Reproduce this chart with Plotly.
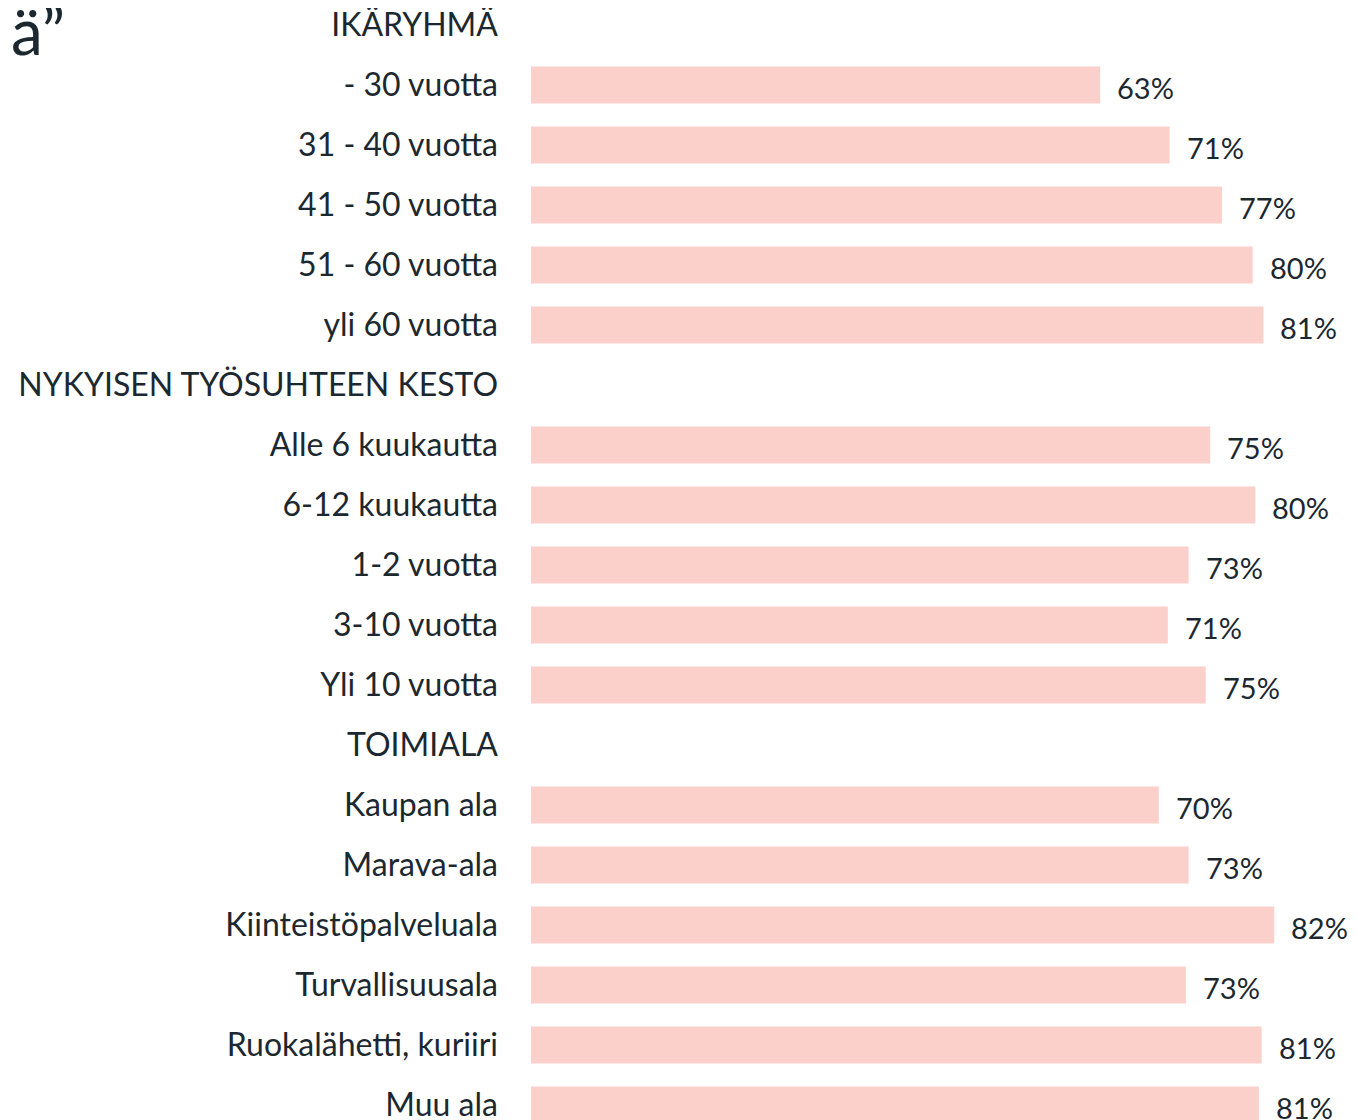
import plotly.graph_objects as go

# Ryhmät ja arvot (%)
ika_labels = ["- 30 vuotta", "31 - 40 vuotta", "41 - 50 vuotta", "51 - 60 vuotta", "yli 60 vuotta"]
ika_values = [63.1, 70.8, 76.6, 80.0, 81.2]

kesto_labels = ["Alle 6 kuukautta", "6-12 kuukautta", "1-2 vuotta", "3-10 vuotta", "Yli 10 vuotta"]
kesto_values = [75.3, 80.3, 72.9, 70.6, 74.8]

ala_labels = ["Kaupan ala", "Marava-ala", "Kiinteistöpalveluala", "Turvallisuusala",
              "Ruokalähetti, kuriiri", "Muu ala"]
ala_values = [69.6, 72.9, 82.4, 72.6, 81.0, 80.7]

headers = ["IKÄRYHMÄ", "NYKYISEN TYÖSUHTEEN KESTO", "TOIMIALA"]

TEXT = "#1c2830"
BAR = "#fbcfca"
FONT = "Lato, Inter, sans-serif"
PX_PER_PCT = 9.02

# kootaan kategoriat otsikkoriveineen
cats, vals = [], []
for head, labels, values in zip(headers,
                                [ika_labels, kesto_labels, ala_labels],
                                [ika_values, kesto_values, ala_values]):
    cats.append(head)
    vals.append(None)
    cats += labels
    vals += values

fig = go.Figure(go.Bar(
    x=vals, y=cats, orientation="h",
    marker=dict(color=BAR, line=dict(width=0)),
    width=0.62, hoverinfo="skip"
))

for c, v in zip(cats, vals):
    if v is None:
        continue
    fig.add_annotation(x=v, y=c, text=f"{round(v)}%", showarrow=False,
                       xanchor="left", xshift=15, yshift=-2,
                       font=dict(size=29, color=TEXT, family=FONT))

# katkennut otsikko vasemmassa yläkulmassa
plot_w = 1356 - 523
fig.add_annotation(xref="paper", yref="paper", x=-523 / plot_w, y=1.0,
                   xanchor="right", yanchor="top", xshift=59, yshift=18,
                   text="ä”", showarrow=False,
                   font=dict(size=64, color=TEXT, family=FONT))

n = len(cats)
fig.update_layout(
    width=1356, height=1120,
    margin=dict(l=523, r=0, t=0, b=0),
    plot_bgcolor="white", paper_bgcolor="white",
    showlegend=False,
    font=dict(family=FONT, color=TEXT),
    xaxis=dict(range=[0, plot_w / PX_PER_PCT], visible=False, fixedrange=True),
    yaxis=dict(
        type="category", categoryorder="array", categoryarray=cats,
        range=[n - 1 + 23 / 60, -17 / 60],
        showgrid=False, zeroline=False, showline=False,
        ticks="", ticklabelstandoff=32,
        tickfont=dict(size=32, color=TEXT, family=FONT),
        automargin=False,
    ),
)

fig.write_html("out.html")
